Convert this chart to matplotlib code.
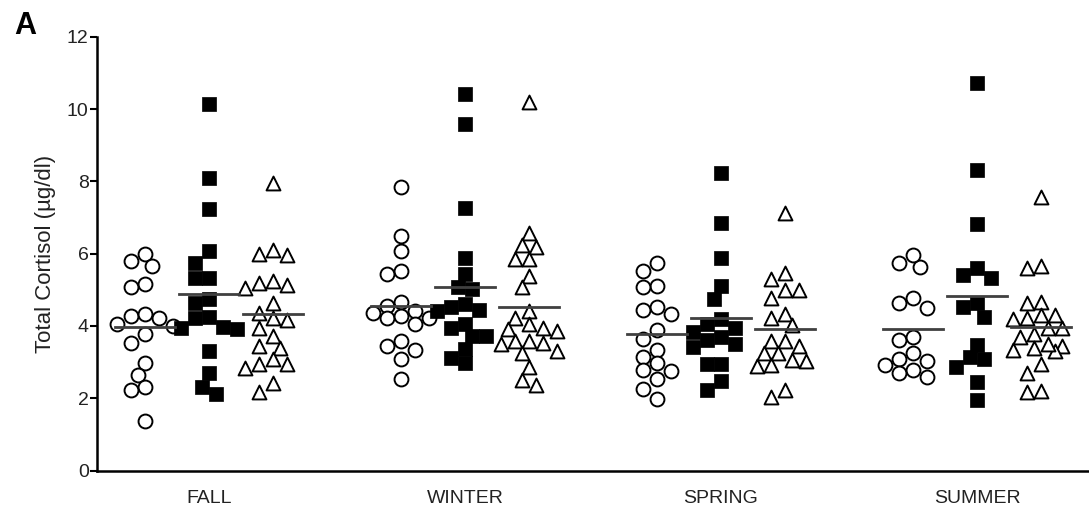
import numpy as np
import matplotlib
matplotlib.use('Agg')
import matplotlib.pyplot as plt

plt.rcParams['font.family'] = ['Liberation Sans', 'DejaVu Sans']

# Seasons on the x axis
seasons = ['FALL', 'WINTER', 'SPRING', 'SUMMER']

# Total cortisol (ug/dl), three groups per season (circles, squares, triangles)
fall_circle = [5.99, 5.66, 5.79, 5.16, 5.08, 4.22, 4.28, 4.33, 4.06, 4.0, 3.78, 3.53,
               2.98, 2.65, 2.32, 2.23, 1.38]
fall_square = [10.13, 8.08, 7.23, 6.07, 5.74, 5.33, 5.33, 4.64, 4.74, 4.22, 4.25, 3.95,
               3.91, 3.97, 3.31, 2.70, 2.32, 2.12]
fall_triangle = [7.95, 5.96, 5.99, 6.10, 5.19, 5.05, 5.13, 5.24, 4.64, 4.22, 4.16, 4.36,
                 3.94, 3.72, 3.40, 3.45, 3.09, 2.95, 2.84, 2.95, 2.43, 2.18]

winter_circle = [7.83, 6.48, 6.07, 5.52, 5.44, 4.67, 4.55, 4.41, 4.23, 4.22, 4.28, 4.35,
                 4.05, 3.59, 3.45, 3.34, 3.09, 2.54]
winter_square = [10.41, 9.58, 7.26, 5.87, 5.44, 5.08, 5.01, 4.52, 4.41, 4.43, 4.6, 4.06,
                 3.72, 3.72, 3.94, 3.36, 2.96, 3.11]
winter_triangle = [10.19, 6.57, 6.18, 6.23, 5.85, 5.85, 5.38, 5.08, 4.22, 4.41, 3.92, 3.87,
                   3.95, 3.54, 3.59, 3.5, 3.59, 3.31, 3.24, 2.85, 2.37, 2.5, 4.05]

spring_circle = [5.75, 5.52, 5.10, 5.08, 4.51, 4.33, 4.44, 3.89, 3.64, 3.34, 3.15, 2.96,
                 2.74, 2.79, 2.54, 2.26, 1.99]
spring_square = [8.23, 6.85, 5.87, 5.10, 4.74, 4.19, 4.05, 3.82, 3.61, 3.51, 3.68, 3.95,
                 3.42, 2.95, 2.95, 2.48, 2.23]
spring_triangle = [7.13, 5.47, 5.29, 4.99, 4.99, 4.78, 4.34, 4.23, 4.03, 3.57, 3.57, 3.26,
                   3.06, 2.92, 2.90, 3.03, 3.24, 3.45, 2.02, 2.23]

summer_circle = [5.75, 5.63, 5.96, 4.76, 4.49, 4.62, 3.61, 3.68, 3.24, 3.03, 3.08, 2.92,
                 2.78, 2.59, 2.71]
summer_square = [10.71, 8.32, 6.81, 5.61, 5.32, 5.41, 4.51, 4.62, 4.25, 3.48, 3.08, 3.14,
                 2.85, 2.44, 1.95]
summer_triangle = [7.56, 5.59, 5.66, 4.64, 4.67, 4.30, 4.18, 4.23, 4.30, 3.94, 3.95, 3.77,
                   3.68, 3.45, 3.31, 3.40, 3.33, 3.49, 2.71, 2.94, 2.16, 2.21]

groups = [
    [fall_circle, fall_square, fall_triangle],
    [winter_circle, winter_square, winter_triangle],
    [spring_circle, spring_square, spring_triangle],
    [summer_circle, summer_square, summer_triangle],
]

W, H = 1089, 516
fig = plt.figure(figsize=(W / 100, H / 100), dpi=100)
ax = fig.add_axes([97 / W, 1 - 470.5 / H, (W - 97) / W, (470.5 - 36.7) / H])

xmin, xmax = -1.75, 13.75
ymin, ymax = 0, 12
ax.set_xlim(xmin, xmax)
ax.set_ylim(ymin, ymax)

px_x = (W - 97) / (xmax - xmin)
px_y = (470.5 - 36.7) / (ymax - ymin)


# simple beeswarm: push points sideways until they stop overlapping,
# but never further than max_off pixels from the column centre
def swarm(values, center, diam=14.0, gap=1.0, max_off=30.0):
    order = np.argsort(values)[::-1]
    placed = []
    xs = np.zeros(len(values))
    step = diam * 0.5
    n = int(max_off // step)
    cands = [0.0]
    for k in range(1, n + 1):
        cands += [-k * step, k * step]
    for i in order:
        y = values[i] * px_y
        best, best_d = 0.0, -1.0
        for off in cands:
            d = min([np.hypot(off - px, y - py) for px, py in placed] or [1e9])
            if d >= diam * gap:
                best = off
                break
            if d > best_d:
                best, best_d = off, d
        placed.append((best, y))
        xs[i] = center + best / px_x
    return xs


styles = [
    dict(marker='o', s=100, facecolors='white', edgecolors='black', linewidths=1.4),
    dict(marker='s', s=88, facecolors='black', edgecolors='black', linewidths=0.5),
    dict(marker='^', s=100, facecolors='white', edgecolors='black', linewidths=1.4),
]
gaps = [0.92, 1.0, 0.92]

for g, cols in enumerate(groups):
    for j, vals in enumerate(cols):
        vals = np.array(vals)
        center = 4 * g + (j - 1)
        xs = swarm(vals, center, gap=gaps[j])
        ax.scatter(xs, vals, zorder=3, clip_on=False, **styles[j])
        m = vals.mean()
        ax.plot([center - 0.47, center + 0.47], [m, m], color='#404040', lw=2, zorder=4)

ax.set_xticks([4 * g for g in range(4)])
ax.set_xticklabels(seasons, fontsize=14, color='#222222')
ax.tick_params(axis='x', length=0, pad=14)
ax.set_yticks(range(0, 13, 2))
ax.tick_params(axis='y', labelsize=14, labelcolor='#222222', length=5, width=1.5, pad=1)
ax.spines['top'].set_visible(False)
ax.spines['right'].set_visible(False)
ax.spines['left'].set_linewidth(1.8)
ax.spines['bottom'].set_linewidth(1.8)
ax.set_ylabel('Total Cortisol (\u00b5g/dl)', fontsize=16, color='#222222', labelpad=8)

fig.text(14 / W, 1 - 26 / H, 'A', fontsize=22, fontweight='bold', va='center', ha='left')

fig.savefig('out.png', dpi=100)
